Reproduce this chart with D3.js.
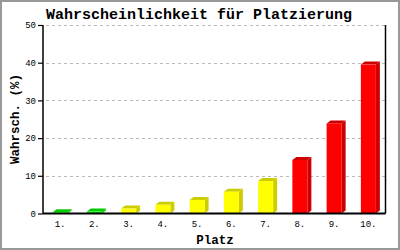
<!DOCTYPE html>
<html><head><meta charset="utf-8">
<script src="https://cdn.jsdelivr.net/npm/d3@7"></script>
<style>html,body{margin:0;padding:0;background:#fff;}svg{display:block;}</style>
</head><body>
<script>
const categories = ["1.","2.","3.","4.","5.","6.","7.","8.","9.","10."];
const values = [0.3, 0.5, 1.3, 2.3, 3.6, 5.8, 8.6, 14.2, 23.9, 39.5];
const groups = ["g","g","y","y","y","y","y","r","r","r"];
const yTicks = [0,10,20,30,40,50];
const title = "Wahrscheinlichkeit für Platzierung";
const xTitle = "Platz";
const yTitle = "Wahrsch. (%)";

const W = 400, H = 250;
const colors = {g:{front:"#00ff00", side:"#00cc00"}, y:{front:"#ffff00", side:"#cccc00"}, r:{front:"#ff0000", side:"#cc0000"}};
const svg = d3.select("body").append("svg").attr("width", W).attr("height", H);
svg.append("rect").attr("x",1).attr("y",1).attr("width",W-2).attr("height",H-2)
  .attr("fill","#fff").attr("stroke","#999").attr("stroke-width",2);

const L = 43, R = 385.5, T = 25, B = 213.5;
const x = d3.scaleBand().domain(categories).range([L, R]);
const y = d3.scaleLinear().domain([0,50]).range([B, T]);
const mono = "'Liberation Mono','DejaVu Sans Mono',monospace";

// grid
svg.append("g").selectAll("line").data(yTicks.filter(d=>d>0)).join("line")
  .attr("x1", L+3).attr("x2", R).attr("y1", d=>Math.round(y(d))+0.5).attr("y2", d=>Math.round(y(d))+0.5)
  .attr("stroke","#bbbbbb").attr("stroke-dasharray","3,3");

// bars
const bw = 15, dx = 4, dy = 3;
const bars = svg.append("g").selectAll("g").data(categories).join("g");
bars.each(function(c,i){
  const g = d3.select(this);
  const cx = x(c) + x.bandwidth()/2;
  const x0 = cx - bw/2, x1 = cx + bw/2;
  const yt = y(values[i]), yb = y(0);
  const col = colors[groups[i]];
  g.append("path").attr("d", `M${x1},${yb}L${x1+dx},${yb-dy}L${x1+dx},${yt-dy}L${x1},${yt}Z`).attr("fill", col.side);
  g.append("path").attr("d", `M${x0},${yt}L${x0+dx},${yt-dy}L${x1+dx},${yt-dy}L${x1},${yt}Z`).attr("fill", col.side);
  g.append("rect").attr("x", x0).attr("y", yt).attr("width", bw).attr("height", yb-yt).attr("fill", col.front);
});

// axes
const yAxis = d3.axisLeft(y).tickValues(yTicks).tickSize(5).tickFormat(d3.format("d"));
const ya = svg.append("g").attr("transform", `translate(${L},0)`).call(yAxis);
ya.select(".domain").attr("stroke","#000").attr("stroke-width",1.5).attr("d", `M0,${T}V${B}`);
ya.selectAll(".tick line").attr("stroke","#000").attr("stroke-width",1.2);
ya.selectAll(".tick text").attr("font-family", mono).attr("font-size", 9).attr("fill","#000").attr("x",-7);

const xAxis = d3.axisBottom(x).tickSize(0).tickPadding(7);
const xa = svg.append("g").attr("transform", `translate(0,${B})`).call(xAxis);
xa.select(".domain").attr("stroke","#000").attr("stroke-width",2).attr("d", `M${L},0H${R}`);
xa.selectAll(".tick text").attr("font-family", mono).attr("font-size", 9).attr("fill","#000");

svg.append("line").attr("x1", R).attr("x2", R).attr("y1", T).attr("y2", B).attr("stroke","#000").attr("stroke-width",1.5);

svg.append("text").attr("x", 199).attr("y", 19).attr("text-anchor","middle")
  .attr("font-family", mono).attr("font-size", 15).attr("font-weight","bold").text(title);
svg.append("text").attr("x", 215).attr("y", 244).attr("text-anchor","middle")
  .attr("font-family", mono).attr("font-size", 12.5).attr("font-weight","bold").text(xTitle);
svg.append("text").attr("transform", "translate(19,119) rotate(-90)").attr("text-anchor","middle")
  .attr("font-family", mono).attr("font-size", 12.5).attr("font-weight","bold").text(yTitle);
</script>
</body></html>
